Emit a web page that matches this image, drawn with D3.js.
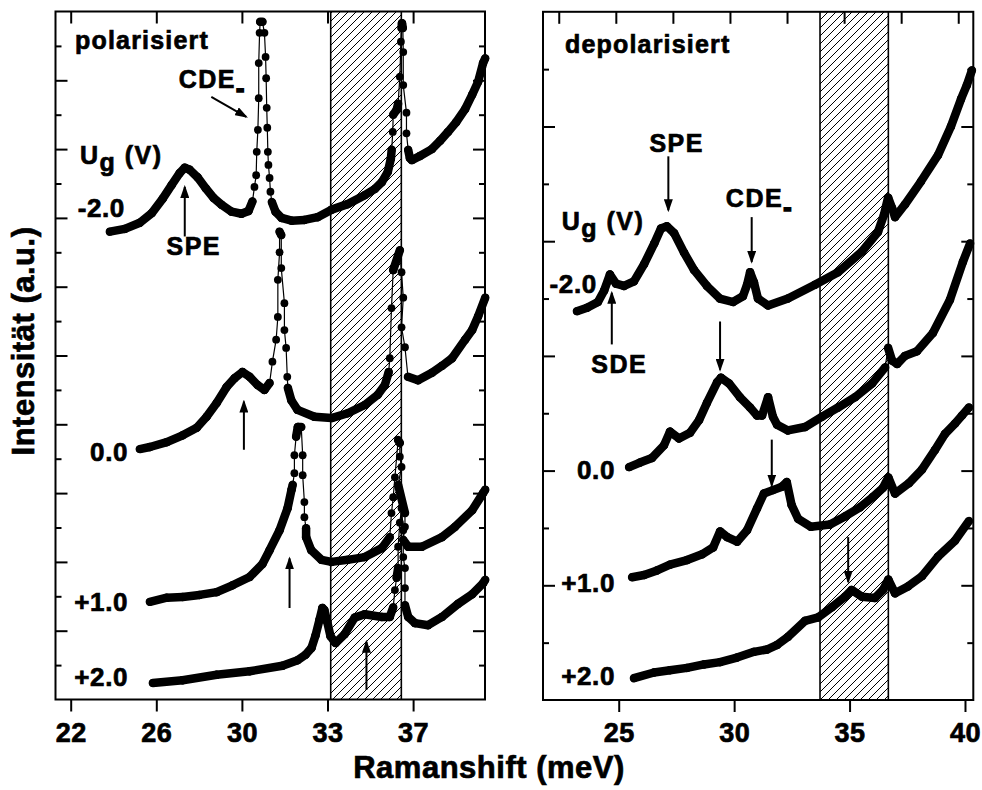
<!DOCTYPE html>
<html lang="de">
<head>
<meta charset="utf-8">
<title>Ramanshift polarisiert / depolarisiert</title>
<script src="https://d3js.org/d3.v7.min.js"></script>
<style>
  body { margin: 0; background: #fff; }
  svg text { font-family: "Liberation Sans", Arial, Helvetica, sans-serif; font-weight: bold; fill: #000;
             stroke: #000; stroke-width: 0.7px; }
  .title { font-size: 25px; letter-spacing: 1.2px; }
  .lab { font-size: 26px; letter-spacing: 0.6px; }
  .ann { font-size: 25px; letter-spacing: 1.5px; }
  .tick text { font-size: 27px; letter-spacing: 0.5px; }
  .axt { font-size: 31px; letter-spacing: 0.5px; }
</style>
</head>
<body>
<svg id="chart" width="982" height="790"></svg>
<script>
// ---- polarisiert (left) : x in meV as printed on that axis ----
var polTicks = [22, 26, 30, 33, 37];
var polBand = [33.15, 36.45];
var polYMajor = [1, 2, 3, 4, 5, 6, 7, 8, 9];
var polYMinor = [0.5, 1.5, 2.5, 3.5, 4.5, 5.5, 6.5, 7.5, 8.5, 9.5];

var polM20 = [[23.83,6.80],[24.53,6.84],[25.23,6.93],[25.79,7.07],[26.30,7.28],[26.72,7.48],[27.09,7.65],[27.33,7.73],
  [27.56,7.70],[27.93,7.59],[28.31,7.43],[28.68,7.29],[29.05,7.19],[29.52,7.09],[29.98,7.06],[30.23,7.10],[30.37,7.24],
  [30.44,7.45],[30.50,7.62],[30.52,7.96],[30.56,8.28],[30.59,8.74],[30.59,9.25],[30.62,9.69],[30.64,9.85],[30.72,9.85],
  [30.79,9.69],[30.83,9.34],[30.85,9.03],[30.87,8.60],[30.89,8.31],[30.91,7.96],[30.93,7.77],[30.97,7.58],[31.00,7.38],
  [31.05,7.23],[31.18,7.09],[31.39,7.00],[31.74,6.96],[32.19,6.97],[32.65,7.01],[33.19,7.12],[33.94,7.20],[34.74,7.33],
  [35.21,7.42],[35.54,7.52],[35.82,7.67],[35.96,7.86],[36.00,7.99],[36.05,8.25],[36.07,8.50],[36.23,8.57],[36.30,8.66],
  [36.38,9.05],[36.43,9.56],[36.46,9.76],[36.48,9.83],[36.52,9.76],[36.54,9.41],[36.54,8.93],[36.69,8.53],[36.69,8.23],
  [36.77,7.99],[36.85,7.87],[36.94,7.84],[37.32,7.90],[37.88,8.00],[38.26,8.12],[38.63,8.25],[39.01,8.39],[39.43,8.58],
  [39.76,8.79],[40.04,8.98],[40.27,9.25],[40.37,9.32]];

var pol00 = [[25.23,3.64],[25.70,3.67],[26.49,3.74],[27.23,3.84],[27.89,3.95],[28.35,4.11],[28.82,4.31],[29.28,4.54],
  [29.66,4.67],[30.02,4.76],[30.27,4.69],[30.55,4.57],[30.79,4.50],[30.97,4.60],[31.07,4.91],[31.20,5.23],[31.26,5.56],
  [31.26,6.10],[31.32,6.50],[31.32,6.80],[31.38,6.75],[31.38,6.27],[31.49,5.76],[31.49,5.37],[31.55,5.11],[31.59,4.69],
  [31.61,4.53],[31.73,4.35],[31.95,4.21],[32.54,4.11],[33.19,4.09],[33.94,4.16],[34.74,4.28],[35.35,4.43],[35.68,4.57],
  [35.86,4.76],[35.91,4.96],[35.99,5.69],[36.07,6.24],[36.38,6.53],[36.46,6.21],[36.54,5.84],[36.46,5.41],[36.62,5.12],
  [36.76,4.69],[37.23,4.64],[37.88,4.75],[38.35,4.85],[38.82,4.96],[39.43,5.23],[39.76,5.37],[40.04,5.57],[40.37,5.84]];

var polP10 = [[25.70,1.42],[26.49,1.48],[27.23,1.49],[28.02,1.52],[28.82,1.56],[29.56,1.66],[30.27,1.78],[30.72,1.97],
  [30.97,2.17],[31.32,2.46],[31.60,2.78],[31.74,3.05],[31.78,3.12],[31.84,3.29],[31.84,3.55],[31.90,3.82],[31.96,3.96],
  [32.08,3.96],[32.13,3.55],[32.13,3.26],[32.19,2.87],[32.19,2.65],[32.25,2.49],[32.25,2.36],[32.43,2.17],[32.79,2.03],
  [33.19,2.00],[33.94,2.03],[34.74,2.07],[35.54,2.20],[35.91,2.36],[35.99,2.71],[36.07,2.94],[36.15,3.23],[36.30,3.77],
  [36.38,3.73],[36.38,3.53],[36.46,3.38],[36.30,3.12],[36.62,2.71],[36.62,2.51],[36.54,2.32],[36.77,2.22],[37.41,2.22],
  [38.35,2.36],[38.96,2.51],[39.76,2.75],[40.27,3.00],[40.37,3.05]];

var polP20 = [[25.84,0.24],[27.23,0.28],[28.82,0.36],[30.27,0.41],[31.42,0.49],[31.95,0.57],[32.23,0.65],[32.44,0.75],
  [32.58,0.93],[32.72,1.16],[32.82,1.33],[32.89,1.30],[32.99,1.13],[33.14,0.92],[33.38,0.82],[33.80,0.95],[34.27,1.19],
  [34.74,1.24],[35.54,1.20],[35.91,1.20],[36.07,1.34],[36.15,1.59],[36.23,1.77],[36.30,1.91],[36.30,2.22],[36.38,2.57],
  [36.46,2.78],[36.54,2.46],[36.54,2.07],[36.62,1.91],[36.62,1.62],[36.62,1.37],[36.77,1.20],[37.09,1.11],[37.70,1.08],
  [38.35,1.20],[39.10,1.39],[39.76,1.53],[40.27,1.69],[40.37,1.74]];

// ---- depolarisiert (right) ----
var depTicks = [25, 30, 35, 40];
var depTopTicks = [22.5, 25, 27.5, 30, 32.5, 35, 37.5, 40];
var depBand = [33.72, 36.68];
var depYMajor = [1, 2, 3, 4, 5];
var depYMinor = [0.5, 1.5, 2.5, 3.5, 4.5, 5.5];

var depM20 = [[23.19,3.39],[23.63,3.42],[24.10,3.47],[24.37,3.57],[24.62,3.71],[24.88,3.63],[25.23,3.61],[25.66,3.65],
  [26.10,3.80],[26.54,3.98],[26.83,4.11],[27.09,4.13],[27.40,4.07],[27.83,3.90],[28.26,3.75],[28.82,3.61],[29.38,3.50],
  [29.95,3.47],[30.38,3.52],[30.56,3.62],[30.69,3.73],[30.86,3.64],[31.03,3.50],[31.47,3.44],[32.33,3.50],[33.50,3.62],
  [34.50,3.73],[35.54,3.91],[36.23,4.08],[36.49,4.23],[36.67,4.38],[36.84,4.29],[36.97,4.21],[37.40,4.32],[38.09,4.52],
  [38.83,4.75],[39.39,5.00],[39.83,5.24],[40.08,5.36],[40.30,5.49]];

var dep00 = [[25.45,2.03],[25.92,2.07],[26.44,2.11],[26.96,2.22],[27.22,2.34],[27.61,2.28],[28.09,2.33],[28.48,2.44],
  [28.82,2.59],[29.26,2.77],[29.43,2.81],[29.78,2.76],[30.25,2.64],[30.69,2.55],[30.99,2.48],[31.21,2.48],[31.47,2.64],
  [31.68,2.47],[31.86,2.40],[32.33,2.35],[33.07,2.38],[33.81,2.47],[34.50,2.55],[35.24,2.64],[35.98,2.76],[36.54,2.90],
  [36.67,3.07],[36.84,2.96],[37.06,2.93],[37.40,3.00],[37.92,3.04],[38.61,3.20],[39.35,3.49],[39.91,3.82],[40.22,3.98]];

var depP10 = [[25.58,1.07],[26.10,1.09],[26.66,1.13],[27.22,1.18],[27.96,1.22],[28.61,1.27],[29.09,1.33],[29.39,1.47],
  [29.70,1.42],[30.13,1.38],[30.56,1.48],[30.99,1.67],[31.29,1.80],[31.68,1.83],[32.07,1.86],[32.28,1.90],[32.49,1.70],
  [32.77,1.58],[33.33,1.51],[34.15,1.53],[34.80,1.60],[35.45,1.68],[36.01,1.77],[36.45,1.85],[36.68,1.94],[36.97,1.80],
  [37.57,1.89],[38.14,2.01],[38.70,2.18],[39.13,2.32],[39.57,2.41],[39.87,2.48],[40.17,2.55]];

var depP20 = [[25.66,0.19],[26.53,0.24],[27.22,0.26],[27.96,0.28],[28.69,0.31],[29.39,0.33],[30.12,0.37],[30.86,0.42],
  [31.42,0.44],[31.86,0.48],[32.33,0.55],[33.07,0.69],[33.64,0.72],[34.24,0.81],[34.80,0.90],[35.09,0.96],[35.54,0.90],
  [36.10,0.89],[36.45,0.96],[36.68,1.05],[36.97,0.93],[37.53,0.99],[38.14,1.08],[38.83,1.25],[39.57,1.39],[40.17,1.56]];

// labels and arrows, in data units of each panel
var polTexts = [
  { t: "polarisiert", x: 22.20, y: 9.46, a: "start", c: "title" },
  { t: "-2.0", x: 24.53, y: 7.01, a: "end", c: "lab" },
  { t: "0.0", x: 24.68, y: 3.46, a: "end", c: "lab" },
  { t: "+1.0", x: 24.68, y: 1.28, a: "end", c: "lab" },
  { t: "+2.0", x: 24.68, y: 0.19, a: "end", c: "lab" },
  { t: "SPE", x: 27.75, y: 6.46, a: "middle", c: "ann" }
];
var polCDE = { x: 27.05, y: 8.89 };
var polUg = { x: 22.43, y: 7.79 };
var polArrows = [[[28.57, 8.76], [30.15, 8.47]], [[27.33, 6.73], [27.33, 7.45]], [[30.07, 3.63], [30.07, 4.33]],
  [[31.67, 1.33], [31.67, 2.05]], [[34.82, 0.14], [34.82, 0.84]]];

var depTexts = [
  { t: "depolarisiert", x: 22.67, y: 5.64, a: "start", c: "title" },
  { t: "-2.0", x: 24.05, y: 3.55, a: "end", c: "lab" },
  { t: "0.0", x: 24.84, y: 1.93, a: "end", c: "lab" },
  { t: "+1.0", x: 24.84, y: 0.94, a: "end", c: "lab" },
  { t: "+2.0", x: 24.84, y: 0.13, a: "end", c: "lab" },
  { t: "SPE", x: 27.51, y: 4.78, a: "middle", c: "ann" },
  { t: "SDE", x: 25.02, y: 2.85, a: "middle", c: "ann" }
];
var depCDE = { x: 29.64, y: 4.30 };
var depUg = { x: 22.53, y: 4.10 };
var depArrows = [[[27.15, 4.74], [27.15, 4.27]], [[30.76, 4.21], [30.76, 3.82]], [[24.70, 3.10], [24.70, 3.55]],
  [[29.39, 3.30], [29.39, 2.88]], [[31.63, 2.27], [31.63, 1.87]], [[34.94, 1.42], [34.94, 1.03]]];

var svg = d3.select("#chart");
var defs = svg.append("defs");
defs.append("pattern").attr("id", "hatch").attr("patternUnits", "userSpaceOnUse")
    .attr("width", 8).attr("height", 8)
  .append("path").attr("d", "M-2,2L2,-2M0,8L8,0M6,10L10,6")
    .attr("stroke", "#000").attr("stroke-width", 1);
defs.append("marker").attr("id", "head").attr("viewBox", "0 0 13 9")
    .attr("refX", 11).attr("refY", 4.5).attr("markerWidth", 13).attr("markerHeight", 9)
    .attr("markerUnits", "userSpaceOnUse").attr("orient", "auto")
  .append("path").attr("d", "M0,0L13,4.5L0,9Z").attr("fill", "#000");

// left x axis is not uniform: equal tick spacing for 22, 26, 30, 33, 37
var L = { left: 55.5, top: 11.5, right: 485, bottom: 699.5 };
var step = 85.6, off = 15.2;
var xPol = d3.scaleLinear().domain([22, 30, 33, 37])
    .range([L.left + off, L.left + off + 2 * step, L.left + off + 3 * step, L.left + off + 4 * step]);
var yPol = d3.scaleLinear().domain([0, 10]).range([L.bottom, L.top]);

var R = { left: 543, top: 11.8, right: 973.3, bottom: 700 };
var xDep = d3.scaleLinear().domain([21.72, 40.36]).range([R.left, R.right]);
var xDepTop = d3.scaleLinear().domain([21.81, 40.66]).range([R.left, R.right]);
var yDep = d3.scaleLinear().domain([0, 6]).range([R.bottom, R.top]);

function drawPanel(p) {
  var g = svg.append("g");
  var b = p.box;

  // hatched region
  g.append("rect").attr("x", p.x(p.band[0])).attr("y", b.top)
      .attr("width", p.x(p.band[1]) - p.x(p.band[0])).attr("height", b.bottom - b.top)
      .attr("fill", "url(#hatch)");
  p.band.forEach(function (v) {
    g.append("line").attr("x1", p.x(v)).attr("x2", p.x(v)).attr("y1", b.top).attr("y2", b.bottom)
        .attr("stroke", "#000").attr("stroke-width", 1.6);
  });

  // axes
  var ax = g.append("g").attr("transform", "translate(0," + b.bottom + ")")
      .call(d3.axisBottom(p.x).tickValues(p.ticks).tickSize(12).tickFormat(d3.format("d")));
  ax.selectAll("text").attr("y", 42).attr("dy", null);
  g.append("g").attr("transform", "translate(0," + b.top + ")")
      .call(d3.axisTop(p.xTop).tickValues(p.topTicks).tickSize(-12).tickFormat(""));
  g.append("g").attr("transform", "translate(" + b.left + ",0)")
      .call(d3.axisLeft(p.y).tickValues(p.yMajor).tickSize(-12).tickFormat(""));
  g.append("g").attr("transform", "translate(" + b.left + ",0)")
      .call(d3.axisLeft(p.y).tickValues(p.yMinor).tickSize(-6).tickFormat(""));
  g.append("g").attr("transform", "translate(" + b.right + ",0)")
      .call(d3.axisRight(p.y).tickValues(p.yMajor).tickSize(-12).tickFormat(""));
  g.append("g").attr("transform", "translate(" + b.right + ",0)")
      .call(d3.axisRight(p.y).tickValues(p.yMinor).tickSize(-6).tickFormat(""));
  g.selectAll(".domain").remove();
  g.selectAll(".tick line").attr("stroke", "#000").attr("stroke-width", 2);

  // spectra: thin connecting line, round dots; where the points are close the dots merge into a thick trace
  p.series.forEach(function (s) {
    var pts = s.map(function (d) { return [p.x(d[0]), p.y(d[1])]; });
    g.append("path").attr("d", d3.line()(pts)).attr("fill", "none")
        .attr("stroke", "#000").attr("stroke-width", 1.2);
    var dense = d3.pairs(pts).filter(function (ab) {
      var dx = Math.abs(ab[1][0] - ab[0][0]), dy = Math.abs(ab[1][1] - ab[0][1]);
      return dy < Math.max(10, 5 * dx);
    });
    g.selectAll(null).data(dense).join("line")
        .attr("x1", function (d) { return d[0][0]; }).attr("y1", function (d) { return d[0][1]; })
        .attr("x2", function (d) { return d[1][0]; }).attr("y2", function (d) { return d[1][1]; })
        .attr("stroke", "#000").attr("stroke-width", 8.5).attr("stroke-linecap", "round");
    g.selectAll(null).data(pts).join("circle")
        .attr("cx", function (d) { return d[0]; }).attr("cy", function (d) { return d[1]; })
        .attr("r", 3.9).attr("fill", "#000");
  });

  // frame
  g.append("rect").attr("x", b.left).attr("y", b.top).attr("width", b.right - b.left)
      .attr("height", b.bottom - b.top).attr("fill", "none").attr("stroke", "#000").attr("stroke-width", 2);

  // arrows
  g.selectAll(null).data(p.arrows).join("line")
      .attr("x1", function (d) { return p.x(d[0][0]); }).attr("y1", function (d) { return p.y(d[0][1]); })
      .attr("x2", function (d) { return p.x(d[1][0]); }).attr("y2", function (d) { return p.y(d[1][1]); })
      .attr("stroke", "#000").attr("stroke-width", 2).attr("marker-end", "url(#head)");

  // labels
  g.selectAll(null).data(p.texts).join("text")
      .attr("class", function (d) { return d.c; })
      .attr("x", function (d) { return p.x(d.x); }).attr("y", function (d) { return p.y(d.y); })
      .attr("text-anchor", function (d) { return d.a; })
      .text(function (d) { return d.t; });

  var cde = g.append("text").attr("class", "ann").attr("x", p.x(p.cde.x)).attr("y", p.y(p.cde.y));
  cde.append("tspan").text("CDE");
  cde.append("tspan").attr("dy", 9).style("stroke-width", "1.6px").text("-");

  var ug = g.append("text").attr("class", "ann").attr("x", p.x(p.ug.x)).attr("y", p.y(p.ug.y));
  ug.append("tspan").text("U");
  ug.append("tspan").attr("dy", 7).text("g");
  ug.append("tspan").attr("dy", -7).text(" (V)");
}

drawPanel({
  box: L, x: xPol, xTop: xPol, y: yPol, ticks: polTicks, topTicks: polTicks, band: polBand,
  yMajor: polYMajor, yMinor: polYMinor, series: [polM20, pol00, polP10, polP20],
  texts: polTexts, arrows: polArrows, cde: polCDE, ug: polUg
});
drawPanel({
  box: R, x: xDep, xTop: xDepTop, y: yDep, ticks: depTicks, topTicks: depTopTicks, band: depBand,
  yMajor: depYMajor, yMinor: depYMinor, series: [depM20, dep00, depP10, depP20],
  texts: depTexts, arrows: depArrows, cde: depCDE, ug: depUg
});

// axis titles
svg.append("text").attr("class", "axt").attr("x", 489).attr("y", 778)
    .attr("text-anchor", "middle").text("Ramanshift (meV)");
svg.append("text").attr("class", "axt").attr("text-anchor", "middle")
    .attr("transform", "translate(33.5,341) rotate(-90)").text("Intensität (a.u.)");
</script>
</body>
</html>
